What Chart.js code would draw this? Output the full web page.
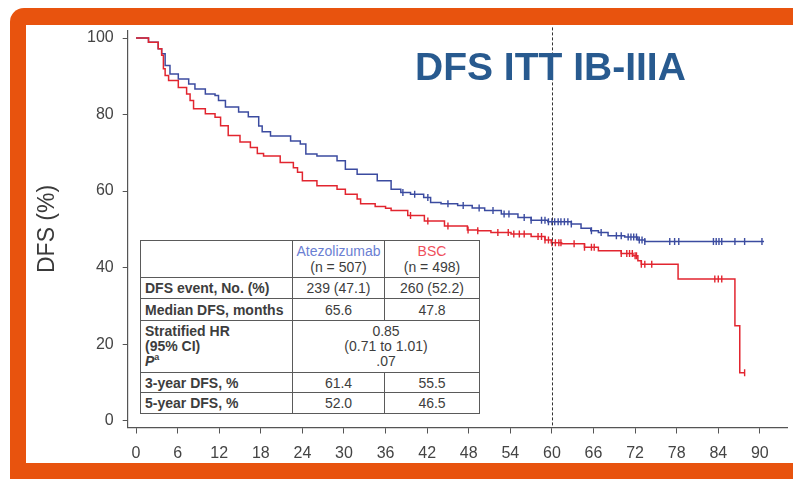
<!DOCTYPE html>
<html>
<head>
<meta charset="utf-8">
<script src="https://cdn.jsdelivr.net/npm/chart.js@4.4.1/dist/chart.umd.min.js"></script>
<style>
  body { margin: 0; width: 793px; height: 479px; overflow: hidden; background: #fff; position: relative;
         font-family: "Liberation Sans", Arial, sans-serif; }
  #frame { position: absolute; left: 10px; top: 8px; width: 820px; height: 500px; background: #e8530e; border-radius: 14px; }
  #panel { position: absolute; left: 26px; top: 25px; width: 767px; height: 438px; background: #fff; }
  #chart { position: absolute; left: 0; top: 0; }
  #heading { position: absolute; left: 389px; top: 22px; margin: 0; font: bold 39px/39px "Liberation Sans", Arial, sans-serif;
             color: #285a8f; white-space: nowrap; }
  #summary { position: absolute; left: 114px; top: 215px; width: 339px; border-collapse: collapse; table-layout: fixed;
             background: #fff; font-size: 14px; color: #3d3d3d; }
  #summary td, #summary th { border: 1.5px solid #5a5a5a; padding: 0; text-align: center; vertical-align: middle; line-height: 16px; font-weight: normal; }
  #summary th { text-align: left; padding-left: 4px; font-weight: bold; }
  #summary tr.hr th, #summary tr.hr td { line-height: 15px; }
  #summary .atezo { color: #6b7fd3; }
  #summary .bsc { color: #ef4f5c; }
  #summary sup { font-size: 9px; line-height: 0; }
</style>
</head>
<body>
<div id="frame"></div>
<div id="panel">
  <canvas id="chart" width="767" height="438"></canvas>
  <h1 id="heading">DFS ITT IB-IIIA</h1>
  <table id="summary">
    <colgroup><col style="width:152px"><col style="width:92px"><col style="width:95px"></colgroup>
    <tr style="height:37px"><td></td><td><span class="atezo">Atezolizumab</span><br>(n = 507)</td><td><span class="bsc">BSC</span><br>(n = 498)</td></tr>
    <tr style="height:21px"><th>DFS event, No. (%)</th><td>239 (47.1)</td><td>260 (52.2)</td></tr>
    <tr style="height:22px"><th>Median DFS, months</th><td>65.6</td><td>47.8</td></tr>
    <tr class="hr" style="height:52px"><th>Stratified HR<br>(95% CI)<br><i>P</i><sup>a</sup></th><td colspan="2">0.85<br>(0.71 to 1.01)<br>.07</td></tr>
    <tr style="height:20px"><th>3-year DFS, %</th><td>61.4</td><td>55.5</td></tr>
    <tr style="height:21px"><th>5-year DFS, %</th><td>52.0</td><td>46.5</td></tr>
  </table>
</div>
<script>
// Kaplan-Meier DFS curves, months vs. percent disease-free
const xTicks = [0, 6, 12, 18, 24, 30, 36, 42, 48, 54, 60, 66, 72, 78, 84, 90];
const yTicks = [0, 20, 40, 60, 80, 100];

const atezoMonths = [0, 1.8, 3.2, 3.7, 4.2, 4.9, 6.1, 7.6, 8.5, 10.0, 11.4, 11.9, 12.9, 14.8, 16.2, 17.7, 18.2,
  19.4, 22.3, 23.7, 24.5, 26.1, 29.0, 30.2, 31.9, 34.8, 36.8, 38.2, 39.6, 41.5, 42.5, 44.0, 46.4, 48.5, 50.3,
  52.7, 55.1, 57.0, 59.4, 62.8, 64.2, 65.6, 66.7, 68.1, 70.5, 72.4, 73.4, 90.6];
const atezoDfs = [100, 98.9, 97.2, 95.9, 92.8, 90.6, 89.3, 88.0, 86.7, 85.4, 85.0, 83.7, 82.0, 80.7, 79.4, 77.0, 75.5,
  74.4, 73.1, 72.3, 69.7, 69.2, 67.9, 65.7, 64.4, 62.7, 60.5, 59.6, 59.2, 58.3, 57.0, 56.7, 56.2, 55.6, 54.9,
  54.0, 53.1, 52.4, 52.0, 51.4, 50.3, 49.6, 49.2, 48.3, 48.0, 47.2, 46.8, 46.8];

const bscMonths = [0, 1.8, 3.2, 3.7, 3.95, 4.2, 4.7, 6.1, 7.3, 7.8, 8.3, 10.0, 11.4, 12.2, 13.3, 15.0, 16.5, 17.5,
  18.4, 20.8, 22.7, 23.3, 24.0, 26.1, 29.0, 30.2, 31.9, 32.4, 34.5, 36.0, 36.8, 39.2, 41.6, 44.5, 47.8, 49.3,
  51.2, 54.1, 57.0, 59.0, 59.9, 61.4, 64.7, 66.7, 70.0, 71.7, 72.4, 72.9, 78.2, 86.4, 87.1, 87.8];
const bscDfs = [100, 98.9, 97.2, 95.5, 92.0, 90.2, 88.9, 87.1, 85.4, 83.7, 81.5, 80.2, 79.3, 77.1, 74.5, 72.8, 71.4, 69.8,
  69.2, 67.5, 66.1, 64.9, 62.7, 61.4, 60.5, 59.2, 57.9, 56.7, 56.0, 55.5, 54.9, 53.6, 52.2, 50.9, 49.8, 49.6,
  49.2, 48.8, 48.1, 47.2, 46.5, 46.2, 45.3, 44.4, 43.7, 43.1, 41.8, 40.9, 37.0, 24.8, 12.5, 12.5];

// censored patients (months)
const atezoCensored = [38.5, 40.2, 42.1, 45.0, 47.2, 49.5, 51.5, 53.1, 53.8, 56.0, 57.0, 58.5, 59.0, 59.5, 60.0,
  60.4, 60.9, 61.3, 61.8, 62.3, 62.8, 65.7, 67.1, 69.3, 70.0, 71.0, 71.4, 71.8, 72.2, 72.6, 73.0, 73.4, 77.0,
  77.7, 78.3, 83.3, 83.7, 84.1, 84.5, 86.4, 87.8, 90.3];
const bscCensored = [39.6, 42.1, 45.0, 47.9, 49.3, 52.2, 53.7, 54.5, 55.3, 56.0, 58.0, 58.5, 59.0, 59.5, 60.0,
  60.5, 61.0, 61.3, 63.2, 64.7, 65.7, 66.1, 70.0, 70.8, 71.2, 71.6, 72.0, 72.2, 72.9, 73.4, 74.4, 83.5, 84.0,
  84.5, 87.8];

const landmarkMonth = 60;

const BLUE = '#3b4ba0';
const RED = '#e2252f';
const FONT = '"Liberation Sans", Arial, sans-serif';

// value of a step curve at time t (last event at or before t)
function survivalAt(months, dfs, t) {
  let v = dfs[0];
  for (let i = 0; i < months.length; i++) {
    if (months[i] <= t) v = dfs[i];
  }
  return v;
}

function curve(months, dfs) {
  return months.map((m, i) => ({ x: m, y: dfs[i] }));
}

function censorMarks(times, months, dfs) {
  return times.map((t) => ({ x: t, y: survivalAt(months, dfs, t) }));
}

const landmarkLine = {
  id: 'landmarkLine',
  afterDatasetsDraw(chart) {
    const { ctx, chartArea, scales } = chart;
    const x = Math.round(scales.x.getPixelForValue(landmarkMonth)) + 0.5;
    ctx.save();
    ctx.strokeStyle = '#333';
    ctx.lineWidth = 1;
    ctx.setLineDash([3, 2]);
    ctx.beginPath();
    ctx.moveTo(x, chartArea.top - 3);
    ctx.lineTo(x, chartArea.bottom);
    ctx.stroke();
    ctx.restore();
  },
};

function axisTicks(values) {
  return (scale) => { scale.ticks = values.map((v) => ({ value: v })); };
}

// fixed axis boxes so the plot area sits where it should
function fixWidth(w) {
  return (scale) => { scale.width = w; scale.paddingTop = 0; scale.paddingBottom = 0; };
}
function fixHeight(h) {
  return (scale) => { scale.height = h; scale.paddingLeft = 0; scale.paddingRight = 0; };
}

new Chart(document.getElementById('chart'), {
  type: 'line',
  data: {
    datasets: [
      { label: 'BSC', data: curve(bscMonths, bscDfs), stepped: true, borderColor: RED, borderWidth: 1.5, pointRadius: 0 },
      { label: 'Atezolizumab', data: curve(atezoMonths, atezoDfs), stepped: true, borderColor: BLUE, borderWidth: 1.5, pointRadius: 0 },
      { label: 'BSC censored', data: censorMarks(bscCensored, bscMonths, bscDfs), showLine: false,
        pointStyle: 'line', rotation: 90, pointRadius: 3.5, borderColor: RED, borderWidth: 1.4 },
      { label: 'Atezolizumab censored', data: censorMarks(atezoCensored, atezoMonths, atezoDfs), showLine: false,
        pointStyle: 'line', rotation: 90, pointRadius: 3.5, borderColor: BLUE, borderWidth: 1.4 },
    ],
  },
  options: {
    responsive: false,
    animation: false,
    devicePixelRatio: 1,
    layout: { padding: { left: 0, top: 4.5, right: 0, bottom: 0 } },
    plugins: { legend: { display: false }, tooltip: { enabled: false } },
    scales: {
      x: {
        type: 'linear', min: -1.2, max: 94,
        afterBuildTicks: axisTicks(xTicks),
        afterFit: fixHeight(35.5),
        ticks: { font: { size: 16, family: FONT }, color: '#444', padding: 10, maxRotation: 0, autoSkip: false },
        grid: { drawOnChartArea: false, tickLength: 6, color: '#555' },
        border: { color: '#555', width: 1.2 },
      },
      y: {
        min: -1.8, max: 102,
        afterBuildTicks: axisTicks(yTicks),
        afterFit: fixWidth(101.7),
        ticks: { font: { size: 16, family: FONT }, color: '#444', padding: 9 },
        grid: { drawOnChartArea: false, tickLength: 5, color: '#555' },
        border: { color: '#555', width: 1.2 },
        title: { display: true, text: 'DFS (%)', color: '#3a3a3a', font: { size: 23, family: FONT },
                 padding: { top: 8, bottom: 25 } },
      },
    },
  },
  plugins: [landmarkLine],
});
</script>
</body>
</html>
